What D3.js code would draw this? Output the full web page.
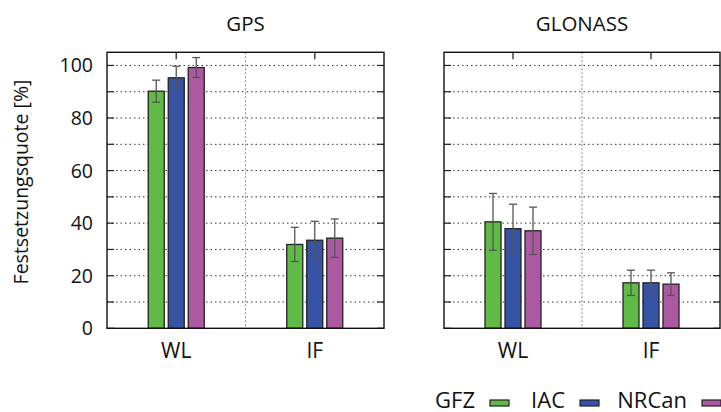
<!DOCTYPE html>
<html>
<head>
<meta charset="utf-8">
<script src="https://cdn.jsdelivr.net/npm/d3@7"></script>
<style>
  html, body { margin: 0; padding: 0; background: #fff; }
  svg { display: block; font-family: "Open Sans", "Noto Sans", sans-serif; }
</style>
</head>
<body>
<svg id="chart" width="721" height="412"></svg>
<script>
// Ambiguity-fixing rates per system, combination (WL / IF) and analysis centre
const systems = ["GPS", "GLONASS"];
const categories = ["WL", "IF"];
const series = ["GFZ", "IAC", "NRCan"];
const seriesColors = ["#5fba46", "#3653a5", "#ac59a1"];

// mean values [%], one row per category, one entry per series
const gpsMeans = [[90.2, 95.3, 99.2], [31.9, 33.5, 34.3]];
const gpsErrors = [[4.2, 4.4, 3.8], [6.5, 7.2, 7.3]];
const glonassMeans = [[40.5, 37.9, 37.1], [17.3, 17.3, 16.8]];
const glonassErrors = [[10.8, 9.3, 9.0], [4.8, 4.8, 4.3]];

const yTickLabels = [0, 20, 40, 60, 80, 100];
const yGridValues = [10, 20, 30, 40, 50, 60, 70, 80, 90, 100];

const svg = d3.select("#chart");
const tickFont = 19.5, titleFont = 20.5, catFont = 21, legendFont = 22;

const plotTop = 52.3, plotBottom = 328.3;
const panels = [
  { name: systems[0], means: gpsMeans, errors: gpsErrors, x0: 107, x1: 384, labels: true },
  { name: systems[1], means: glonassMeans, errors: glonassErrors, x0: 444, x1: 720, labels: false }
];

const y = d3.scaleLinear().domain([0, 105]).range([plotBottom, plotTop]);

panels.forEach(p => {
  const g = svg.append("g");
  const x = d3.scaleBand().domain(categories).range([p.x0, p.x1]).padding(0);
  const xs = d3.scaleBand().domain(series).range([-30, 30]).paddingInner(0.2).paddingOuter(0.1);

  // horizontal dotted grid
  g.selectAll("line.hgrid").data(yGridValues).join("line")
    .attr("x1", p.x0).attr("x2", p.x1)
    .attr("y1", d => y(d)).attr("y2", d => y(d))
    .attr("stroke", "#333").attr("stroke-width", 1)
    .attr("stroke-dasharray", "1.5,3");

  // vertical dotted grid between the categories
  const mid = (p.x0 + p.x1) / 2;
  g.append("line")
    .attr("x1", mid).attr("x2", mid).attr("y1", plotTop).attr("y2", plotBottom)
    .attr("stroke", "#999").attr("stroke-width", 1.2)
    .attr("stroke-dasharray", "2,2");

  // y ticks on both sides, pointing inward
  const ticks = yGridValues.concat([0]);
  g.selectAll("line.tl").data(ticks).join("line")
    .attr("x1", p.x0).attr("x2", p.x0 + 7)
    .attr("y1", d => y(d)).attr("y2", d => y(d))
    .attr("stroke", "#222").attr("stroke-width", 1.2);
  g.selectAll("line.tr").data(ticks).join("line")
    .attr("x1", p.x1 - 7).attr("x2", p.x1)
    .attr("y1", d => y(d)).attr("y2", d => y(d))
    .attr("stroke", "#222").attr("stroke-width", 1.2);

  // x ticks at the top edge
  g.selectAll("line.xt").data(categories).join("line")
    .attr("x1", d => x(d) + x.bandwidth() / 2).attr("x2", d => x(d) + x.bandwidth() / 2)
    .attr("y1", plotTop).attr("y2", plotTop + 7)
    .attr("stroke", "#444").attr("stroke-width", 1.5);

  // bars
  const cells = [];
  categories.forEach((c, ci) => series.forEach((s, si) => {
    cells.push({ c, s, si, v: p.means[ci][si], e: p.errors[ci][si] });
  }));
  const cx = d => x(d.c) + x.bandwidth() / 2 + xs(d.s);
  g.selectAll("rect.bar").data(cells).join("rect")
    .attr("x", d => cx(d))
    .attr("y", d => y(d.v))
    .attr("width", xs.bandwidth())
    .attr("height", d => y(0) - y(d.v))
    .attr("fill", d => seriesColors[d.si])
    .attr("stroke", "#222").attr("stroke-width", 1.3);

  // error bars
  const eb = g.selectAll("g.err").data(cells).join("g")
    .attr("stroke", "#555").attr("stroke-width", 1.3);
  const ex = d => cx(d) + xs.bandwidth() / 2;
  eb.append("line")
    .attr("x1", ex).attr("x2", ex)
    .attr("y1", d => y(d.v + d.e)).attr("y2", d => y(d.v - d.e));
  eb.append("line")
    .attr("x1", d => ex(d) - 4).attr("x2", d => ex(d) + 4)
    .attr("y1", d => y(d.v + d.e)).attr("y2", d => y(d.v + d.e));
  eb.append("line")
    .attr("x1", d => ex(d) - 4).attr("x2", d => ex(d) + 4)
    .attr("y1", d => y(d.v - d.e)).attr("y2", d => y(d.v - d.e));

  // frame
  g.append("rect")
    .attr("x", p.x0).attr("y", plotTop)
    .attr("width", p.x1 - p.x0).attr("height", plotBottom - plotTop)
    .attr("fill", "none").attr("stroke", "#111").attr("stroke-width", 1.4);

  // title
  g.append("text")
    .attr("x", mid).attr("y", 31)
    .attr("text-anchor", "middle")
    .attr("font-size", titleFont).attr("fill", "#111")
    .text(p.name);

  // category labels
  g.selectAll("text.cat").data(categories).join("text")
    .attr("x", d => x(d) + x.bandwidth() / 2).attr("y", 357.5)
    .attr("text-anchor", "middle")
    .attr("font-size", catFont).attr("fill", "#111")
    .text(d => d);

  if (p.labels) {
    g.selectAll("text.yl").data(yTickLabels).join("text")
      .attr("x", 93).attr("y", d => y(d))
      .attr("dy", "0.36em")
      .attr("text-anchor", "end")
      .attr("font-size", tickFont).attr("fill", "#111")
      .text(d => d);
  }
});

// y-axis title
svg.append("text")
  .attr("transform", "translate(28,182) rotate(-90)")
  .attr("text-anchor", "middle")
  .attr("font-size", tickFont).attr("fill", "#111")
  .text("Festsetzungsquote [%]");

// legend: label followed by a small coloured key
const legendTextEnds = [475, 565, 687];
const legend = svg.append("g");
series.forEach((s, i) => {
  legend.append("text")
    .attr("x", legendTextEnds[i]).attr("y", 407.5)
    .attr("text-anchor", "end")
    .attr("font-size", legendFont).attr("fill", "#111")
    .text(s);
  legend.append("rect")
    .attr("x", legendTextEnds[i] + 15).attr("y", 400)
    .attr("width", 19).attr("height", 6)
    .attr("fill", seriesColors[i])
    .attr("stroke", "#222").attr("stroke-width", 1.2);
});
</script>
</body>
</html>
